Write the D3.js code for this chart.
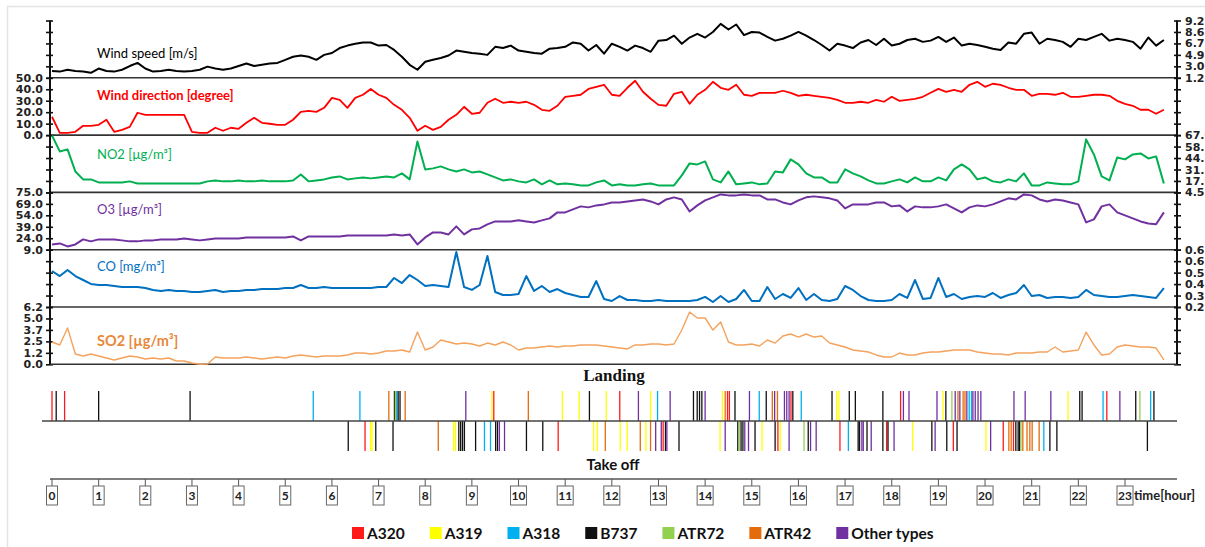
<!DOCTYPE html>
<html><head><meta charset="utf-8">
<script src="https://cdn.jsdelivr.net/npm/d3@7"></script>
<style>body{margin:0;background:#fff;} svg{display:block;}</style>
</head><body><svg id="chart" width="1205" height="547"></svg>
<script>
// ---------------- DATA ----------------
const sampleStepHours = 1 / 6; // one reading every 10 minutes, starting at 0 h

const windSpeed = [2.3,2.2,2.5,2.3,2.2,2.0,2.7,2.3,2.2,2.5,3.1,3.6,
2.7,2.2,2.3,2.5,2.3,2.2,2.3,2.5,3.0,2.7,2.5,2.7,
3.1,3.5,3.1,3.3,3.5,3.6,4.1,4.6,4.8,4.6,4.1,4.9,
5.2,6.0,6.4,6.7,6.9,6.9,6.4,6.5,5.7,4.6,3.3,2.5,
3.8,4.1,4.4,4.8,5.6,5.4,5.2,5.1,4.9,6.2,6.0,6.4,
5.6,5.4,5.2,5.1,5.9,6.0,6.2,6.9,6.7,5.6,6.5,5.1,
6.7,6.2,5.6,6.4,6.0,5.4,7.2,7.3,8.0,6.7,7.7,8.3,
7.7,8.6,9.9,9.0,9.8,8.1,8.6,8.5,7.8,7.2,7.5,8.0,
8.6,8.0,7.3,6.5,5.6,6.7,6.4,6.0,6.9,7.3,6.5,7.5,
6.4,6.7,7.3,7.5,7.0,7.2,7.8,7.0,7.7,6.4,6.7,6.5,
6.2,5.9,5.7,6.9,6.7,8.3,8.5,6.7,7.5,7.3,7.0,6.2,
7.5,7.3,7.8,8.3,7.2,7.5,7.3,7.0,5.9,7.7,6.4,7.3];

const windDirection = [16.0,2.0,2.0,2.9,8.1,8.1,9.0,13.4,2.9,4.6,7.2,19.5,
17.7,17.7,17.7,17.7,17.7,17.7,2.9,2.0,2.0,6.4,3.8,6.4,
5.5,10.7,15.1,10.7,9.9,9.0,9.0,13.4,20.3,21.2,20.3,23.8,
32.5,30.8,23.8,32.5,35.2,40.3,35.2,32.5,26.4,22.1,15.1,3.8,
8.1,4.6,7.2,13.4,17.7,24.7,18.6,19.5,28.2,31.7,28.2,29.1,
28.2,29.1,26.4,22.1,21.2,25.6,33.4,34.3,35.2,40.3,42.1,43.9,
35.2,34.3,41.3,47.4,37.8,31.7,26.4,25.6,36.0,37.8,27.3,35.2,
39.5,46.5,41.3,39.5,43.9,35.2,34.3,36.9,36.9,36.9,38.7,36.9,
34.3,35.2,34.3,33.4,32.5,30.8,28.2,28.2,29.1,28.2,30.8,29.1,
33.4,29.9,30.8,31.7,33.4,36.9,40.3,37.8,39.5,37.8,43.9,46.5,
42.1,44.8,43.9,41.3,39.5,39.5,34.3,36.0,36.0,35.2,36.9,33.4,
33.4,34.3,35.2,35.2,34.3,29.9,27.3,25.6,22.1,22.1,18.6,22.1];

const no2 = [71.1,52.4,54.8,29.0,19.7,19.7,16.2,16.2,16.2,16.2,17.4,15.0,
15.0,15.0,15.0,15.0,15.0,15.0,15.0,15.0,17.4,18.5,17.4,17.4,
18.5,17.4,17.4,18.5,17.4,17.4,17.4,18.5,25.5,17.4,18.5,19.7,
22.0,23.2,19.7,20.9,22.0,20.9,22.0,23.2,22.0,26.7,19.7,64.1,
31.4,32.6,34.9,31.4,29.0,31.4,27.9,29.0,25.5,22.0,18.5,19.7,
17.4,16.2,19.7,13.9,18.5,13.9,15.0,13.9,12.7,12.7,16.2,18.5,
12.7,13.9,12.7,12.7,13.9,15.0,12.7,12.7,12.7,24.4,38.4,37.2,
40.7,19.7,16.2,29.0,13.9,15.0,16.2,13.9,15.0,29.0,27.9,43.1,
37.2,26.7,22.0,22.0,16.2,16.2,31.4,26.7,23.2,18.5,15.0,15.0,
17.4,19.7,16.2,22.0,17.4,17.4,22.0,18.5,31.4,37.2,31.4,19.7,
22.0,17.4,16.2,19.7,17.4,26.7,12.7,12.7,16.2,15.0,13.9,13.9,
17.4,66.5,48.9,23.2,18.5,45.4,43.1,48.9,50.1,44.2,46.6,15.0];

const o3 = [15.9,17.2,13.3,15.9,22.5,19.9,22.5,22.5,22.5,21.2,19.9,19.9,
21.2,21.2,22.5,22.5,22.5,23.8,22.5,21.2,22.5,23.8,23.8,23.8,
23.8,25.1,25.1,25.1,25.1,25.1,25.1,26.4,21.2,26.4,26.4,26.4,
26.4,26.4,27.7,27.7,27.7,27.7,27.7,27.7,29.0,27.7,29.0,15.9,
25.1,31.6,31.6,29.0,39.5,29.0,35.6,36.9,42.1,46.0,46.0,46.0,
47.4,46.0,44.7,47.4,50.0,57.8,57.8,61.8,65.7,64.4,67.0,68.3,
70.9,70.9,72.2,73.5,74.8,72.2,68.3,74.8,77.5,74.8,59.1,67.0,
73.5,77.5,81.4,80.1,80.1,81.4,80.1,80.1,74.8,74.8,70.9,68.3,
73.5,77.5,78.8,77.5,76.2,73.5,63.1,68.3,68.3,68.3,70.9,70.9,
65.7,67.0,59.1,65.7,64.4,64.4,65.7,68.3,63.1,57.8,64.4,67.0,
65.7,68.3,72.2,76.2,74.8,81.4,80.1,74.8,72.2,74.8,73.5,70.9,
68.3,44.7,48.7,65.7,68.3,57.8,53.9,50.0,46.0,43.4,42.3,57.8];

const co = [.483,.443,.491,.443,.412,.381,.373,.373,.365,.357,.357,.357,
.349,.334,.326,.334,.326,.326,.318,.318,.326,.334,.318,.326,
.326,.334,.334,.341,.341,.341,.349,.349,.373,.349,.349,.357,
.349,.349,.349,.349,.349,.349,.357,.357,.428,.388,.451,.412,
.365,.373,.365,.357,.632,.357,.334,.373,.601,.318,.294,.294,
.302,.443,.326,.365,.318,.341,.310,.294,.279,.279,.404,.263,
.247,.286,.255,.255,.247,.247,.255,.247,.247,.247,.247,.255,
.279,.239,.286,.239,.263,.334,.247,.247,.357,.263,.302,.271,
.349,.255,.302,.255,.247,.263,.365,.334,.286,.255,.247,.247,
.255,.302,.271,.412,.263,.271,.428,.279,.302,.263,.279,.286,
.279,.310,.271,.294,.310,.373,.286,.294,.271,.279,.279,.271,
.279,.334,.294,.286,.279,.279,.286,.294,.286,.279,.271,.349];

const so2 = [2.41,2.09,3.93,1.11,0.90,1.11,0.90,0.68,0.47,0.68,0.90,0.79,
0.57,0.68,0.57,0.68,0.36,0.36,0.14,0.00,0.03,0.79,0.68,0.68,
0.68,0.79,0.68,0.57,0.68,0.79,0.68,0.90,1.01,0.90,0.79,0.90,
0.90,0.90,1.01,1.22,1.22,1.11,1.22,1.44,1.44,1.55,1.33,3.49,
1.55,1.87,2.63,2.41,2.20,2.30,2.20,1.98,2.30,2.09,2.41,2.09,
1.55,1.76,1.76,1.87,1.98,1.87,1.98,1.98,2.09,2.09,2.09,1.98,
1.87,1.76,1.66,2.09,2.09,2.20,2.20,2.09,2.20,3.71,5.66,5.01,
5.01,3.71,4.58,2.41,2.09,2.09,2.20,1.98,2.63,2.30,3.06,3.28,
2.95,3.28,2.95,3.06,2.30,2.09,1.87,1.55,1.44,1.33,1.01,0.79,
0.79,1.22,1.01,1.01,1.22,1.33,1.33,1.44,1.55,1.55,1.55,1.33,
1.22,1.11,1.11,1.01,1.22,1.22,1.22,1.33,1.33,1.87,1.33,1.44,
1.55,3.49,2.09,1.01,1.11,1.87,2.09,1.98,1.87,1.87,1.76,0.47];

// axis tick labels, bottom to top
const windSpeedTicks = ["1.2","3.0","4.9","6.7","8.6","9.2"];
const windDirectionTicks = ["0.0","10.0","20.0","30.0","40.0","50.0"];
const no2Ticks = ["4.5","17.9","31.3","44.7","58.1","67.0"];
const o3Ticks = ["9.0","24.0","39.0","54.0","69.0","75.0"];
const coTicks = ["0.2","0.3","0.4","0.5","0.6","0.6"];
const so2Ticks = ["0.0","1.2","2.5","3.7","5.0","6.2"];

const hours = [0,1,2,3,4,5,6,7,8,9,10,11,12,13,14,15,16,17,18,19,20,21,22,23];

const aircraftTypes = ["A320","A319","A318","B737","ATR72","ATR42","Other types"];

// [time in hours, aircraft type]
const landings = [[0.00,"A320"],[0.09,"B737"],[0.27,"A320"],[1.00,"B737"],[2.96,"B737"],[5.60,"A318"],[6.60,"A318"],
[7.22,"ATR42"],[7.34,"B737"],[7.36,"ATR72"],[7.39,"A318"],[7.42,"B737"],[7.46,"B737"],[7.57,"ATR42"],[8.87,"Other types"],
[9.43,"A319"],[9.47,"A320"],[10.21,"ATR42"],[10.94,"A319"],[11.30,"A319"],[11.52,"B737"],[11.88,"A319"],[12.17,"A320"],
[12.57,"Other types"],[12.83,"A319"],[12.98,"A318"],[13.25,"Other types"],[13.75,"B737"],[13.83,"B737"],[13.88,"B737"],
[13.93,"B737"],[14.00,"Other types"],[14.37,"A319"],[14.43,"ATR42"],[14.48,"A320"],[14.52,"A320"],[14.64,"B737"],
[14.95,"Other types"],[15.16,"A318"],[15.31,"B737"],[15.44,"ATR42"],[15.49,"Other types"],[15.55,"ATR42"],
[15.70,"Other types"],[15.75,"Other types"],[15.80,"Other types"],[15.84,"A320"],[15.88,"B737"],[16.06,"A318"],
[16.72,"B737"],[16.82,"A319"],[16.87,"A319"],[17.09,"B737"],[17.22,"B737"],[17.81,"B737"],[18.19,"A320"],
[18.25,"Other types"],[18.37,"Other types"],[18.97,"Other types"],[19.10,"A319"],[19.16,"B737"],[19.29,"ATR72"],
[19.36,"Other types"],[19.42,"ATR42"],[19.46,"Other types"],[19.53,"ATR42"],[19.57,"ATR42"],[19.61,"Other types"],
[19.66,"A318"],[19.71,"A318"],[19.74,"Other types"],[19.79,"Other types"],[19.85,"Other types"],[19.91,"Other types"],
[20.62,"Other types"],[20.86,"Other types"],[21.41,"Other types"],[21.78,"A319"],[22.03,"B737"],[22.08,"B737"],
[22.53,"A318"],[22.61,"A320"],[22.89,"Other types"],[23.23,"B737"],[23.32,"ATR72"],[23.55,"A318"],[23.62,"B737"]];

const takeoffs = [[6.35,"B737"],[6.71,"A320"],[6.83,"A319"],[6.86,"A319"],[6.94,"B737"],[7.31,"B737"],[8.28,"ATR42"],
[8.61,"A319"],[8.65,"A319"],[8.72,"B737"],[8.76,"B737"],[8.80,"B737"],[8.84,"B737"],[9.08,"B737"],[9.27,"A318"],
[9.40,"A318"],[9.51,"B737"],[9.55,"B737"],[9.59,"Other types"],[9.70,"Other types"],[10.17,"B737"],[10.52,"B737"],
[10.85,"A320"],[11.61,"A319"],[11.69,"A319"],[11.86,"ATR42"],[12.18,"A319"],[12.33,"A319"],[12.61,"ATR42"],
[12.73,"A319"],[12.83,"ATR42"],[12.94,"Other types"],[13.06,"Other types"],[13.10,"A320"],[13.15,"B737"],
[13.18,"Other types"],[13.44,"B737"],[14.32,"A319"],[14.43,"Other types"],[14.70,"B737"],[14.73,"ATR72"],
[14.77,"B737"],[14.81,"B737"],[14.85,"Other types"],[14.93,"Other types"],[15.07,"B737"],[15.22,"A319"],
[15.50,"B737"],[15.56,"A320"],[15.61,"A319"],[15.80,"Other types"],[16.12,"ATR72"],[16.21,"B737"],
[16.26,"Other types"],[16.38,"Other types"],[16.89,"A320"],[17.07,"A318"],[17.28,"B737"],[17.31,"B737"],
[17.36,"Other types"],[17.39,"Other types"],[17.47,"B737"],[17.56,"Other types"],[17.81,"B737"],[17.89,"A320"],
[17.92,"B737"],[18.05,"Other types"],[18.45,"A319"],[18.86,"B737"],[18.93,"Other types"],[19.18,"B737"],
[19.32,"A320"],[19.40,"B737"],[20.02,"A319"],[20.12,"Other types"],[20.39,"A320"],[20.51,"ATR42"],[20.56,"ATR42"],
[20.61,"A320"],[20.66,"B737"],[20.71,"B737"],[20.74,"B737"],[20.77,"ATR72"],[20.81,"ATR42"],[20.90,"ATR42"],
[20.96,"ATR42"],[21.01,"ATR42"],[21.16,"ATR42"],[21.26,"A318"],[21.39,"B737"],[21.54,"B737"],[23.48,"B737"]];

// ---------------- STYLE / LAYOUT ----------------
const typeColor = d3.scaleOrdinal().domain(aircraftTypes)
  .range(["#ff1a1a","#ffff00","#00b0f0","#111111","#92d050","#e46c0a","#7030a0"]);

const svg = d3.select("#chart");
const plotLeft = 50, plotRight = 1177;
const panelTop = 20.5, panelH = 57.3;
const tickFont = "'DejaVu Sans', Verdana, sans-serif";
const labelFont = "Lato, 'Open Sans', sans-serif";

// light frame
svg.append("rect").attr("x", 7.5).attr("y", 6.5).attr("width", 1300).attr("height", 700)
  .attr("fill", "none").attr("stroke", "#e4e4e4").attr("stroke-width", 1.5);

const x = d3.scaleLinear().domain([0, 23]).range([52, 1125]);

const panels = [
  {label: "Wind speed [m/s]", color: "#000000", textColor: "#000000", data: windSpeed, domain: [1.2, 10.45], ticks: windSpeedTicks, side: "right", lw: 2, fs: 13, fw: 400, dy: 37},
  {label: "Wind direction [degree]", color: "#ff0000", textColor: "#ff0000", data: windDirection, domain: [0, 50], ticks: windDirectionTicks, side: "left", lw: 1.8, fs: 13, fw: 700, dy: 22},
  {label: "NO2 [\u00b5g/m\u00b3]", color: "#00b050", textColor: "#00b050", data: no2, domain: [4.5, 71.5], ticks: no2Ticks, side: "right", lw: 2, fs: 13, fw: 400, dy: 24},
  {label: "O3 [\u00b5g/m\u00b3]", color: "#7030a0", textColor: "#7030a0", data: o3, domain: [9, 84], ticks: o3Ticks, side: "left", lw: 2, fs: 13, fw: 400, dy: 22},
  {label: "CO [mg/m\u00b3]", color: "#0070c0", textColor: "#0070c0", data: co, domain: [0.2, 0.65], ticks: coTicks, side: "right", lw: 2, fs: 13, fw: 400, dy: 21},
  {label: "SO2 [\u00b5g/m\u00b3]", color: "#f5a25d", textColor: "#e8883a", data: so2, domain: [0, 6.2], ticks: so2Ticks, side: "left", lw: 1.4, fs: 14.5, fw: 700, dy: 39}
];

const panelsBottom = panelTop + panels.length * panelH;

panels.forEach((p, pi) => {
  const top = panelTop + pi * panelH, bottom = top + panelH;
  const y = d3.scaleLinear().domain(p.domain).range([bottom, top]);
  const tv = d3.range(6).map(k => p.domain[0] + k * (p.domain[1] - p.domain[0]) / 5);
  const lab = (d, i) => p.ticks[i];

  const gl = svg.append("g").attr("transform", `translate(${plotLeft},0)`)
    .call(d3.axisLeft(y).tickValues(tv).tickSize(4).tickPadding(3)
      .tickFormat(p.side === "left" ? lab : () => ""));
  const gl2 = svg.append("g").attr("transform", `translate(${plotLeft},0)`)
    .call(d3.axisRight(y).tickValues(tv).tickSize(3).tickFormat(() => ""));
  const gr = svg.append("g").attr("transform", `translate(${plotRight},0)`)
    .call(d3.axisRight(y).tickValues(tv).tickSize(4).tickPadding(4)
      .tickFormat(p.side === "right" ? lab : () => ""));
  const gr2 = svg.append("g").attr("transform", `translate(${plotRight},0)`)
    .call(d3.axisLeft(y).tickValues(tv).tickSize(3).tickFormat(() => ""));
  [gl, gl2, gr, gr2].forEach(g => {
    g.select(".domain").remove();
    g.selectAll("line").attr("stroke", "#111").attr("stroke-width", 1.6);
    g.selectAll("text").attr("font-family", tickFont).attr("font-weight", "bold")
      .attr("font-size", 11).attr("fill", "#222");
  });

  svg.append("line").attr("x1", plotLeft).attr("x2", plotRight).attr("y1", bottom).attr("y2", bottom)
    .attr("stroke", "#333").attr("stroke-width", 1.6);

  const line = d3.line().x((d, i) => x(i * sampleStepHours)).y(d => y(d));
  svg.append("path").datum(p.data).attr("d", line).attr("fill", "none")
    .attr("stroke", p.color).attr("stroke-width", p.lw).attr("stroke-linejoin", "round");

  svg.append("text").attr("x", 97).attr("y", top + p.dy)
    .attr("font-family", labelFont).attr("font-size", p.fs).attr("font-weight", p.fw)
    .attr("fill", p.textColor).text(p.label);
});

[plotLeft, plotRight].forEach(ax => {
  svg.append("line").attr("x1", ax).attr("x2", ax).attr("y1", panelTop).attr("y2", panelsBottom)
    .attr("stroke", "#111").attr("stroke-width", 2);
});

// ---------------- LANDING / TAKE OFF ----------------
const eventY = d3.scaleBand().domain(["Landing", "Take off"]).range([391, 451]);
const baseY = eventY("Take off");

svg.append("text").attr("x", 614).attr("y", 381).attr("text-anchor", "middle")
  .attr("font-family", "'Liberation Serif', 'Times New Roman', serif").attr("font-weight", "bold")
  .attr("font-size", 17).attr("fill", "#111").text("Landing");

svg.append("text").attr("x", 613).attr("y", 470).attr("text-anchor", "middle")
  .attr("font-family", labelFont).attr("font-weight", "bold")
  .attr("font-size", 15).attr("fill", "#111").text("Take off");

[["Landing", landings], ["Take off", takeoffs]].forEach(([kind, evs]) => {
  svg.append("g").selectAll("line").data(evs).join("line")
    .attr("x1", d => x(d[0])).attr("x2", d => x(d[0]))
    .attr("y1", eventY(kind)).attr("y2", eventY(kind) + eventY.bandwidth())
    .attr("stroke", d => typeColor(d[1])).attr("stroke-width", 1.3);
});

svg.append("line").attr("x1", plotLeft - 8).attr("x2", plotRight).attr("y1", baseY).attr("y2", baseY)
  .attr("stroke", "#444").attr("stroke-width", 1.3);

// ---------------- TIME AXIS ----------------
const axisY = 479;
svg.append("line").attr("x1", plotLeft).attr("x2", plotRight).attr("y1", axisY).attr("y2", axisY)
  .attr("stroke", "#555").attr("stroke-width", 1.5);
const hg = svg.append("g").selectAll("g").data(hours).join("g")
  .attr("transform", d => `translate(${x(d)},0)`);
hg.append("line").attr("y1", axisY).attr("y2", axisY + 7).attr("stroke", "#555");
hg.append("rect").attr("x", d => d >= 10 ? -8 : -5.5).attr("y", axisY + 7)
  .attr("width", d => d >= 10 ? 16 : 11).attr("height", 19)
  .attr("fill", "#fff").attr("stroke", "#666").attr("stroke-width", 1);
hg.append("text").attr("y", axisY + 21).attr("text-anchor", "middle")
  .attr("font-family", labelFont).attr("font-weight", "bold").attr("font-size", 12)
  .attr("fill", "#222").text(d => d);
svg.append("text").attr("x", x(23) + 9).attr("y", axisY + 21)
  .attr("font-family", labelFont).attr("font-weight", "bold").attr("font-size", 13)
  .attr("fill", "#222").text("time[hour]");

// ---------------- LEGEND ----------------
let lx = 352;
const legY = 533;
aircraftTypes.forEach(t => {
  const g = svg.append("g").attr("transform", `translate(${lx},${legY})`);
  g.append("rect").attr("x", 0).attr("y", -6).attr("width", 12).attr("height", 12).attr("fill", typeColor(t));
  const tx = g.append("text").attr("x", 15).attr("y", 6)
    .attr("font-family", labelFont).attr("font-weight", "bold").attr("font-size", 15.5)
    .attr("fill", "#111").text(t);
  lx += 15 + tx.node().getComputedTextLength() + 25;
});
</script></body></html>
